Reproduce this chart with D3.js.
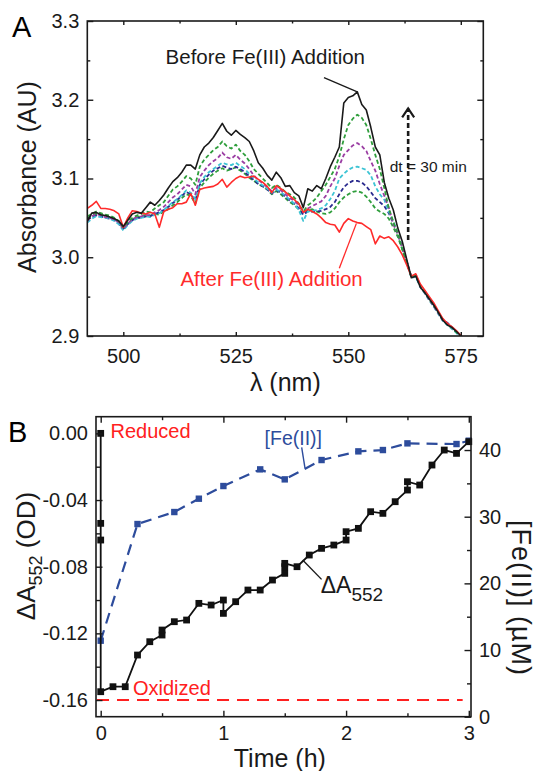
<!DOCTYPE html>
<html>
<head>
<meta charset="utf-8">
<script src="https://cdn.jsdelivr.net/npm/d3@7"></script>
<style>
  body { margin: 0; background: #fff; }
  svg { display: block; }
  text { font-family: "Liberation Sans", Arial, Helvetica, sans-serif; }
</style>
</head>
<body>
<svg id="chart"></svg>
<script>
// ---- panel A: spectra (absorbance vs wavelength) ----
const wavelengths = [492, 493, 494, 495, 496, 497, 498, 499, 500, 501,
  502, 503, 504, 505, 506, 507, 508, 509, 510, 511,
  512, 513, 514, 515, 516, 517, 518, 519, 520, 521,
  522, 523, 524, 525, 526, 527, 528, 529, 530, 531,
  532, 533, 534, 535, 536, 537, 538, 539, 540, 541,
  542, 543, 544, 545, 546, 547, 548, 549, 550, 551,
  552, 553, 554, 555, 556, 557, 558, 559, 560, 561,
  562, 563, 564, 565, 566, 567, 568, 569, 570, 571,
  572, 573, 574, 575, 576];

const absBefore = [3.046, 3.056, 3.057, 3.054, 3.053, 3.051, 3.049, 3.046, 3.039, 3.047,
  3.055, 3.057, 3.056, 3.063, 3.070, 3.066, 3.072, 3.079, 3.088, 3.096,
  3.101, 3.108, 3.117, 3.117, 3.112, 3.130, 3.140, 3.145, 3.152, 3.161,
  3.170, 3.160, 3.155, 3.161, 3.156, 3.152, 3.147, 3.135, 3.120, 3.113,
  3.104, 3.098, 3.108, 3.101, 3.090, 3.091, 3.082, 3.078, 3.063, 3.087,
  3.084, 3.091, 3.087, 3.100, 3.115, 3.127, 3.140, 3.196, 3.203, 3.205,
  3.210, 3.194, 3.187, 3.165, 3.140, 3.130, 3.095, 3.075, 3.060, 3.037,
  3.020, 2.997, 2.974, 2.976, 2.962, 2.955, 2.947, 2.939, 2.930, 2.920,
  2.914, 2.911, 2.906, 2.900, 2.894];

const absStep1 = [3.052, 3.055, 3.058, 3.056, 3.054, 3.053, 3.050, 3.046, 3.038, 3.045,
  3.050, 3.053, 3.055, 3.058, 3.057, 3.062, 3.066, 3.070, 3.078, 3.086,
  3.090, 3.096, 3.103, 3.100, 3.092, 3.115, 3.124, 3.130, 3.136, 3.140,
  3.147, 3.141, 3.138, 3.143, 3.135, 3.130, 3.122, 3.112, 3.106, 3.100,
  3.094, 3.088, 3.092, 3.088, 3.083, 3.080, 3.076, 3.068, 3.058, 3.066,
  3.070, 3.076, 3.084, 3.092, 3.102, 3.112, 3.128, 3.150, 3.168, 3.176,
  3.181, 3.177, 3.168, 3.150, 3.130, 3.112, 3.088, 3.062, 3.045, 3.030,
  3.010, 2.993, 2.975, 2.977, 2.964, 2.956, 2.947, 2.939, 2.930, 2.921,
  2.915, 2.911, 2.905, 2.899, 2.893];

const absStep2 = [3.046, 3.052, 3.055, 3.053, 3.051, 3.050, 3.048, 3.044, 3.036, 3.043,
  3.048, 3.051, 3.052, 3.054, 3.053, 3.057, 3.060, 3.064, 3.070, 3.076,
  3.080, 3.086, 3.092, 3.090, 3.080, 3.102, 3.110, 3.117, 3.122, 3.126,
  3.133, 3.127, 3.125, 3.130, 3.124, 3.119, 3.112, 3.104, 3.098, 3.094,
  3.089, 3.084, 3.088, 3.085, 3.080, 3.075, 3.072, 3.066, 3.057, 3.062,
  3.065, 3.068, 3.071, 3.078, 3.090, 3.100, 3.116, 3.130, 3.136, 3.142,
  3.145, 3.141, 3.135, 3.122, 3.110, 3.093, 3.078, 3.063, 3.042, 3.030,
  3.012, 2.994, 2.976, 2.978, 2.963, 2.955, 2.946, 2.938, 2.929, 2.920,
  2.916, 2.911, 2.906, 2.900, 2.894];

const absStep3 = [3.044, 3.049, 3.052, 3.051, 3.050, 3.049, 3.046, 3.042, 3.034, 3.041,
  3.046, 3.049, 3.050, 3.052, 3.051, 3.054, 3.056, 3.060, 3.065, 3.070,
  3.074, 3.079, 3.085, 3.082, 3.074, 3.094, 3.102, 3.108, 3.112, 3.116,
  3.120, 3.118, 3.117, 3.120, 3.116, 3.112, 3.106, 3.100, 3.095, 3.091,
  3.087, 3.082, 3.086, 3.083, 3.078, 3.073, 3.068, 3.060, 3.046, 3.058,
  3.059, 3.060, 3.062, 3.066, 3.074, 3.084, 3.100, 3.106, 3.111, 3.114,
  3.115, 3.113, 3.111, 3.104, 3.090, 3.080, 3.073, 3.058, 3.046, 3.030,
  3.013, 2.995, 2.974, 2.975, 2.962, 2.954, 2.945, 2.937, 2.928, 2.919,
  2.914, 2.909, 2.904, 2.898, 2.893];

const absStep4 = [3.048, 3.051, 3.053, 3.052, 3.050, 3.049, 3.047, 3.043, 3.036, 3.042,
  3.047, 3.050, 3.050, 3.052, 3.052, 3.055, 3.057, 3.060, 3.064, 3.069,
  3.073, 3.078, 3.083, 3.080, 3.072, 3.092, 3.099, 3.105, 3.110, 3.113,
  3.116, 3.114, 3.112, 3.115, 3.112, 3.108, 3.103, 3.098, 3.093, 3.090,
  3.086, 3.081, 3.085, 3.082, 3.077, 3.072, 3.068, 3.062, 3.054, 3.058,
  3.058, 3.058, 3.059, 3.061, 3.064, 3.070, 3.080, 3.089, 3.094, 3.097,
  3.097, 3.095, 3.090, 3.083, 3.075, 3.070, 3.065, 3.056, 3.043, 3.029,
  3.012, 2.994, 2.975, 2.977, 2.963, 2.956, 2.946, 2.938, 2.929, 2.921,
  2.917, 2.911, 2.905, 2.899, 2.894];

const absStep5 = [3.050, 3.053, 3.055, 3.054, 3.052, 3.051, 3.049, 3.045, 3.037, 3.043,
  3.048, 3.051, 3.052, 3.054, 3.053, 3.055, 3.054, 3.058, 3.061, 3.066,
  3.070, 3.075, 3.080, 3.078, 3.068, 3.088, 3.095, 3.101, 3.106, 3.110,
  3.113, 3.110, 3.112, 3.114, 3.110, 3.106, 3.101, 3.097, 3.093, 3.090,
  3.086, 3.080, 3.084, 3.080, 3.075, 3.070, 3.066, 3.061, 3.055, 3.060,
  3.061, 3.058, 3.056, 3.055, 3.057, 3.062, 3.070, 3.076, 3.080, 3.083,
  3.084, 3.082, 3.077, 3.070, 3.062, 3.058, 3.055, 3.049, 3.038, 3.026,
  3.010, 2.993, 2.975, 2.976, 2.964, 2.955, 2.947, 2.938, 2.930, 2.920,
  2.915, 2.910, 2.905, 2.899, 2.893];

const absAfter = [3.062, 3.066, 3.071, 3.062, 3.062, 3.061, 3.059, 3.055, 3.038, 3.050,
  3.059, 3.058, 3.056, 3.055, 3.057, 3.055, 3.038, 3.058, 3.061, 3.063,
  3.068, 3.068, 3.070, 3.081, 3.066, 3.086, 3.088, 3.089, 3.090, 3.093,
  3.099, 3.089, 3.095, 3.100, 3.103, 3.101, 3.102, 3.103, 3.099, 3.095,
  3.090, 3.082, 3.091, 3.087, 3.083, 3.078, 3.073, 3.068, 3.057, 3.061,
  3.058, 3.055, 3.050, 3.044, 3.042, 3.041, 3.032, 3.043, 3.049, 3.046,
  3.044, 3.043, 3.039, 3.035, 3.017, 3.027, 3.024, 3.026, 3.021, 3.013,
  3.003, 2.990, 2.976, 2.979, 2.966, 2.958, 2.950, 2.942, 2.932, 2.922,
  2.916, 2.912, 2.907, 2.901, 2.895];

const specXTicks = [500, 525, 550, 575];
const specXMinor = [512.5, 537.5, 562.5];
const specYTicks = [2.9, 3.0, 3.1, 3.2, 3.3];
const specYMinor = [2.95, 3.05, 3.15, 3.25];

// ---- panel B: time course ----
const timeA552 = [0, 0, 0, 0, 0.1, 0.2, 0.3, 0.4, 0.5, 0.5, 0.6, 0.7, 0.8, 0.9, 1.0, 1.0,
  1.1, 1.2, 1.3, 1.4, 1.5, 1.5, 1.5, 1.6, 1.7, 1.8, 1.9, 2.0, 2.0, 2.1, 2.2, 2.3, 2.4,
  2.5, 2.5, 2.6, 2.7, 2.8, 2.9, 3.0];
const deltaA552 = [0, -0.054, -0.064, -0.155, -0.152, -0.152, -0.133, -0.125, -0.121, -0.118,
  -0.113, -0.112, -0.102, -0.103, -0.100, -0.108, -0.101, -0.094, -0.094, -0.088,
  -0.084, -0.080, -0.078, -0.080, -0.073, -0.069, -0.067, -0.064, -0.059, -0.057,
  -0.047, -0.048, -0.041, -0.034, -0.029, -0.031, -0.019, -0.010, -0.012, -0.005];

const timeFe = [0, 0.3, 0.6, 0.8, 1.0, 1.3, 1.5, 1.8, 2.1, 2.3, 2.5, 2.9, 3.0];
const feConc = [11.4, 28.9, 30.7, 32.7, 34.6, 37.1, 35.6, 38.5, 39.8, 40.0, 41.0, 40.9, 41.4];

const oxidizedTime = [-0.03, 2.95];
const oxidizedLevel = [-0.16, -0.16];

const timeTicks = [0, 1, 2, 3];
const timeMinor = [0.5, 1.5, 2.5];
const dATicks = [0, -0.04, -0.08, -0.12, -0.16];
const dATickLabels = ["0.00", "-0.04", "-0.08", "-0.12", "-0.16"];
const dAMinor = [-0.02, -0.06, -0.10, -0.14];
const feTicks = [0, 10, 20, 30, 40];
const feMinor = [5, 15, 25, 35];

// ---------------------------------------------------------------
const width = 538, height = 771;
const svg = d3.select('#chart').attr('width', width).attr('height', height);

const ink = '#1a1a1a';

function ticksOnly(g, axisFn, scale, values, size) {
  g.call(axisFn(scale).tickValues(values).tickSize(-size).tickFormat(''))
    .call(s => s.select('.domain').remove())
    .selectAll('line').attr('stroke', ink).attr('stroke-width', 1.4);
}

function labelled(g, axisFn, scale, values, size, pad, fmt) {
  g.call(axisFn(scale).tickValues(values).tickSize(-size).tickPadding(pad).tickFormat(fmt))
    .call(s => s.select('.domain').remove());
  g.selectAll('line').attr('stroke', ink).attr('stroke-width', 1.4);
  g.selectAll('text').attr('font-size', 20).attr('fill', ink)
    .style('font-family', '"Liberation Sans", Arial, sans-serif');
}

// ===================== Panel A =====================
const xA = d3.scaleLinear().domain([492, 580]).range([87.3, 483.3]);
const yA = d3.scaleLinear().domain([2.9, 3.3]).range([336, 21]);

svg.append('clipPath').attr('id', 'clipA').append('rect')
  .attr('x', xA(492)).attr('y', yA(3.3))
  .attr('width', xA(580) - xA(492)).attr('height', yA(2.9) - yA(3.3));

const lineA = d3.line().x(d => xA(d[0])).y(d => yA(d[1]));

const spectra = [
  {values: absStep5, color: '#2f9e3c', dash: '4,2.5'},
  {values: absStep4, color: '#2b2b8f', dash: '4,2.5'},
  {values: absStep3, color: '#3cc4d4', dash: '4,2.5'},
  {values: absStep2, color: '#9b3ea3', dash: '4,2.5'},
  {values: absStep1, color: '#2f9e3c', dash: '4,2.5'},
  {values: absAfter, color: '#ff2b2b', dash: null},
  {values: absBefore, color: '#1a1a1a', dash: null}
];

const gA = svg.append('g').attr('clip-path', 'url(#clipA)');
spectra.forEach(s => {
  gA.append('path')
    .datum(wavelengths.map((w, i) => [w, s.values[i]]))
    .attr('d', lineA)
    .attr('fill', 'none')
    .attr('stroke', s.color)
    .attr('stroke-width', s.dash ? 1.8 : 1.6)
    .attr('stroke-dasharray', s.dash)
    .attr('stroke-linejoin', 'round');
});

// axes A
labelled(svg.append('g').attr('transform', `translate(0,${yA(2.9)})`),
  d3.axisBottom, xA, specXTicks, 4, 13, d3.format('d'));
ticksOnly(svg.append('g').attr('transform', `translate(0,${yA(2.9)})`),
  d3.axisBottom, xA, specXMinor, 2.5);
ticksOnly(svg.append('g').attr('transform', `translate(0,${yA(3.3)})`),
  d3.axisTop, xA, specXTicks, 4);
ticksOnly(svg.append('g').attr('transform', `translate(0,${yA(3.3)})`),
  d3.axisTop, xA, specXMinor, 2.5);
labelled(svg.append('g').attr('transform', `translate(${xA(492)},0)`),
  d3.axisLeft, yA, specYTicks, 6, 8, d3.format('.1f'));
ticksOnly(svg.append('g').attr('transform', `translate(${xA(492)},0)`),
  d3.axisLeft, yA, specYMinor, 3);
ticksOnly(svg.append('g').attr('transform', `translate(${xA(580)},0)`),
  d3.axisRight, yA, specYTicks, 6);
ticksOnly(svg.append('g').attr('transform', `translate(${xA(580)},0)`),
  d3.axisRight, yA, specYMinor, 3);

svg.append('rect')
  .attr('x', xA(492)).attr('y', yA(3.3))
  .attr('width', xA(580) - xA(492)).attr('height', yA(2.9) - yA(3.3))
  .attr('fill', 'none').attr('stroke', ink).attr('stroke-width', 1.6);

// labels A
svg.append('text').attr('x', 12).attr('y', 37).attr('font-size', 29).attr('fill', '#000').text('A');
svg.append('text').attr('x', xA(536)).attr('y', 391)
  .attr('text-anchor', 'middle').attr('font-size', 25).attr('fill', ink).text('λ (nm)');
svg.append('text')
  .attr('transform', `translate(36,${177}) rotate(-90)`)
  .attr('text-anchor', 'middle').attr('font-size', 25).attr('fill', ink)
  .text('Absorbance (AU)');

// annotations A
svg.append('text').attr('x', xA(509.4)).attr('y', yA(3.246))
  .attr('font-size', 20.5).attr('fill', ink).text('Before Fe(III) Addition');
svg.append('line')
  .attr('x1', xA(544.6)).attr('y1', yA(3.228))
  .attr('x2', xA(552)).attr('y2', yA(3.21))
  .attr('stroke', ink).attr('stroke-width', 1.3);

svg.append('text').attr('x', xA(512.7)).attr('y', yA(2.963))
  .attr('font-size', 20.5).attr('fill', '#ff2b2b').text('After Fe(III) Addition');
svg.append('line')
  .attr('x1', xA(548)).attr('y1', yA(2.986))
  .attr('x2', xA(551.8)).attr('y2', yA(3.043))
  .attr('stroke', '#ff2b2b').attr('stroke-width', 1.3);

svg.append('text').attr('x', xA(559.2)).attr('y', yA(3.108))
  .attr('font-size', 15.5).attr('fill', ink).text('dt = 30 min');

svg.append('line')
  .attr('x1', xA(563.3)).attr('y1', yA(3.022))
  .attr('x2', xA(563.3)).attr('y2', yA(3.189))
  .attr('stroke', ink).attr('stroke-width', 2.6).attr('stroke-dasharray', '5,3');
svg.append('path')
  .attr('d', `M${xA(563.3) - 6},${yA(3.189) + 9} L${xA(563.3)},${yA(3.189)} L${xA(563.3) + 6},${yA(3.189) + 9}`)
  .attr('fill', 'none').attr('stroke', ink).attr('stroke-width', 2.2);

// ===================== Panel B =====================
const xB = d3.scaleLinear().domain([-0.0383, 3.018]).range([96, 471]);
const yB = d3.scaleLinear().domain([-0.17, 0.01]).range([716.7, 416.7]);
const yFe = d3.scaleLinear().domain([0, 45]).range([716.7, 416.7]);

// oxidized reference line
svg.append('path')
  .datum(oxidizedTime.map((t, i) => [t, oxidizedLevel[i]]))
  .attr('d', d3.line().x(d => xB(d[0])).y(d => yB(d[1])))
  .attr('fill', 'none').attr('stroke', '#ff2020').attr('stroke-width', 2)
  .attr('stroke-dasharray', '12,8');

// Fe(II) series
const feData = timeFe.map((t, i) => [t, feConc[i]]);
svg.append('path')
  .datum(feData)
  .attr('d', d3.line().x(d => xB(d[0])).y(d => yFe(d[1])))
  .attr('fill', 'none').attr('stroke', '#2d4c9c').attr('stroke-width', 2.2)
  .attr('stroke-dasharray', '11,7');
svg.append('g').selectAll('rect').data(feData).enter().append('rect')
  .attr('x', d => xB(d[0]) - 3.2).attr('y', d => yFe(d[1]) - 3.2)
  .attr('width', 6.4).attr('height', 6.4).attr('fill', '#2d4c9c');

// delta A552 series
const dAData = timeA552.map((t, i) => [t, deltaA552[i]]);
svg.append('path')
  .datum(dAData)
  .attr('d', d3.line().x(d => xB(d[0])).y(d => yB(d[1])))
  .attr('fill', 'none').attr('stroke', '#111').attr('stroke-width', 1.8);
svg.append('g').selectAll('rect').data(dAData).enter().append('rect')
  .attr('x', d => xB(d[0]) - 3.4).attr('y', d => yB(d[1]) - 3.4)
  .attr('width', 6.8).attr('height', 6.8).attr('fill', '#111');

// axes B
labelled(svg.append('g').attr('transform', `translate(0,${yB(-0.17)})`),
  d3.axisBottom, xB, timeTicks, 6, 9, d3.format('d'));
ticksOnly(svg.append('g').attr('transform', `translate(0,${yB(-0.17)})`),
  d3.axisBottom, xB, timeMinor, 3.5);
ticksOnly(svg.append('g').attr('transform', `translate(0,${yB(0.01)})`),
  d3.axisTop, xB, timeTicks, 6);
ticksOnly(svg.append('g').attr('transform', `translate(0,${yB(0.01)})`),
  d3.axisTop, xB, timeMinor, 3.5);
labelled(svg.append('g').attr('transform', `translate(${xB.range()[0]},0)`),
  d3.axisLeft, yB, dATicks, 6.5, 8, (d, i) => dATickLabels[i]);
ticksOnly(svg.append('g').attr('transform', `translate(${xB.range()[0]},0)`),
  d3.axisLeft, yB, dAMinor, 4);
labelled(svg.append('g').attr('transform', `translate(${xB.range()[1]},0)`),
  d3.axisRight, yFe, feTicks, 6.5, 8, d3.format('d'));
ticksOnly(svg.append('g').attr('transform', `translate(${xB.range()[1]},0)`),
  d3.axisRight, yFe, feMinor, 4);

svg.append('rect')
  .attr('x', xB.range()[0]).attr('y', yB(0.01))
  .attr('width', xB.range()[1] - xB.range()[0]).attr('height', yB(-0.17) - yB(0.01))
  .attr('fill', 'none').attr('stroke', ink).attr('stroke-width', 1.6);

// labels B
svg.append('text').attr('x', 8).attr('y', 442).attr('font-size', 29).attr('fill', '#000').text('B');
svg.append('text').attr('x', xB(1.46)).attr('y', 767)
  .attr('text-anchor', 'middle').attr('font-size', 25).attr('fill', ink).text('Time (h)');

const leftTitle = svg.append('text')
  .attr('transform', `translate(35,556) rotate(-90)`)
  .attr('text-anchor', 'middle').attr('font-size', 26).attr('fill', ink);
leftTitle.append('tspan').text('ΔA');
leftTitle.append('tspan').attr('font-size', 18).attr('dy', 7).text('552');
leftTitle.append('tspan').attr('dy', -7).text(' (OD)');

svg.append('text')
  .attr('transform', `translate(512,598) rotate(90)`)
  .attr('text-anchor', 'middle').attr('font-size', 27).attr('fill', ink)
  .attr('letter-spacing', 1)
  .text('[Fe(II)] (µM)');

// annotations B
svg.append('text').attr('x', xB(0.08)).attr('y', yB(-0.0028))
  .attr('font-size', 20).attr('fill', '#ff2020').text('Reduced');
svg.append('text').attr('x', xB(0.263)).attr('y', yB(-0.157))
  .attr('font-size', 20).attr('fill', '#ff2020').text('Oxidized');

svg.append('text').attr('x', xB(1.336)).attr('y', yFe(40.75))
  .attr('font-size', 19.5).attr('fill', '#2d4c9c').text('[Fe(II)]');
svg.append('line')
  .attr('x1', xB(1.638)).attr('y1', yFe(40.4))
  .attr('x2', xB(1.665)).attr('y2', yFe(37.3))
  .attr('stroke', '#2d4c9c').attr('stroke-width', 1.4);

const dALabel = svg.append('text').attr('x', xB(1.793)).attr('y', yB(-0.0958))
  .attr('font-size', 23).attr('fill', ink);
dALabel.append('tspan').text('ΔA');
dALabel.append('tspan').attr('font-size', 19).attr('dy', 8).text('552');
svg.append('line')
  .attr('x1', xB(1.646)).attr('y1', yB(-0.076))
  .attr('x2', xB(1.80)).attr('y2', yB(-0.0876))
  .attr('stroke', ink).attr('stroke-width', 1.4);
</script>
</body>
</html>
